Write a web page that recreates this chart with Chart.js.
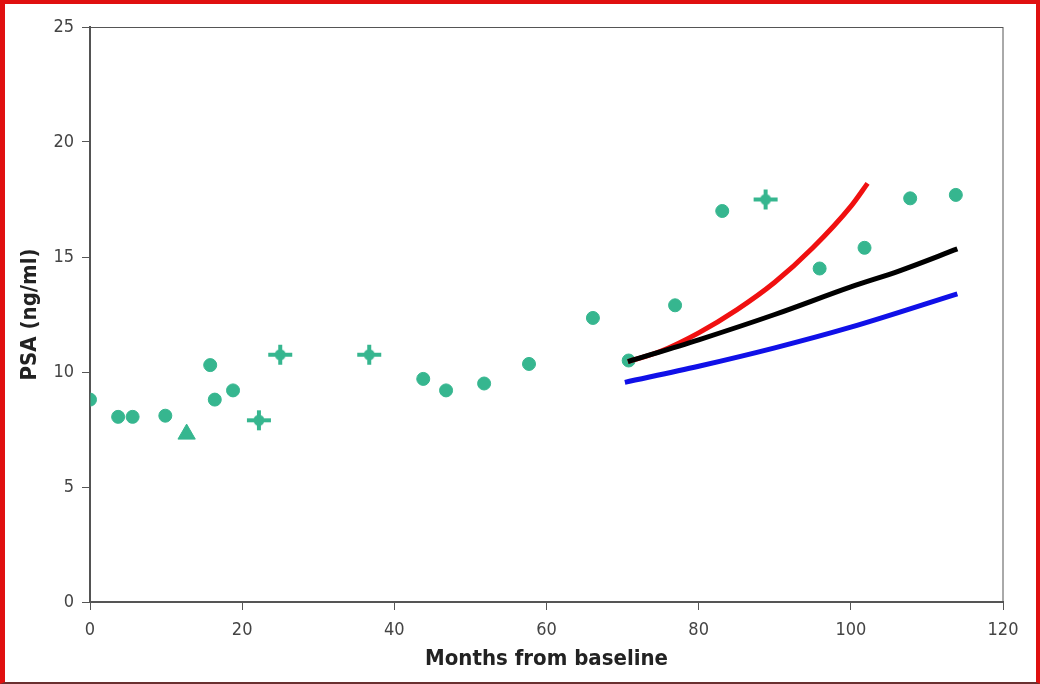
<!DOCTYPE html>
<html>
<head>
<meta charset="utf-8">
<script src="https://cdn.jsdelivr.net/npm/chart.js@4/dist/chart.umd.min.js"></script>
<style>
  html, body { margin: 0; padding: 0; background: #fff; }
  #wrap { position: relative; width: 1040px; height: 684px; }
  #frame {
    position: absolute; left: 0; top: 0; right: 0; bottom: 0;
    border: 4px solid #e01010; border-left-width: 5px; border-bottom: 2px solid #6a3030;
    pointer-events: none;
  }
</style>
</head>
<body>
<div id="wrap">
  <canvas id="psaChart" width="1040" height="684"></canvas>
  <div id="frame"></div>
</div>
<script>
// observed PSA values
const monthsObs = [0, 3.7, 5.6, 9.9, 12.7, 15.8, 16.4, 18.8, 22.2, 25, 36.7, 43.8, 46.8, 51.8, 57.7, 66.1, 70.8, 76.9, 83.1, 88.8, 95.9, 101.8, 107.8, 113.8];
const psaObs = [8.8, 8.05, 8.05, 8.1, 7.3, 10.3, 8.8, 9.2, 7.9, 10.75, 10.75, 9.7, 9.2, 9.5, 10.35, 12.35, 10.5, 12.9, 17.0, 17.5, 14.5, 15.4, 17.55, 17.7];
const crossPoints = [8, 9, 10, 19];
const trianglePoints = [4];

// projected curves
const monthsHigh = [70.7, 75, 80, 85, 90, 95, 100, 102.2];
const psaHigh = [10.45, 10.9, 11.7, 12.7, 13.9, 15.4, 17.2, 18.2];
const monthsMid = [70.7, 80, 90, 100, 106.4, 114];
const psaMid = [10.45, 11.4, 12.5, 13.7, 14.4, 15.35];
const monthsLow = [70.3, 80, 90, 100, 114];
const psaLow = [9.55, 10.25, 11.05, 11.95, 13.4];

const pairs = (xs, ys) => xs.map((x, i) => ({x: x, y: ys[i]}));

const green = '#36b68f';
const ink = '#444';
const narrow = 'DejaVu Sans Condensed, Liberation Sans, Arial, sans-serif';
const tickFont = {family: narrow, size: 18};
const titleFont = {family: narrow, size: 22, weight: 'bold'};

// plus sign with a dot in the middle
function plusMarker() {
    const c = document.createElement('canvas');
    c.width = 26; c.height = 24;
    const g = c.getContext('2d');
    g.fillStyle = green;
    g.fillRect(1, 10, 24, 4);
    g.fillRect(11, 2, 4, 20);
    g.beginPath();
    g.arc(13, 12, 5.5, 0, Math.PI * 2);
    g.fill();
    return c;
}
const plus = plusMarker();

function markerStyle(ctx) {
    if (crossPoints.includes(ctx.dataIndex)) return plus;
    if (trianglePoints.includes(ctx.dataIndex)) return 'triangle';
    return 'circle';
}

// thin box around the plot area
const plotBox = {
    id: 'plotBox',
    afterDraw(chart) {
        const a = chart.chartArea;
        const c = chart.ctx;
        c.save();
        c.strokeStyle = '#555';
        c.lineWidth = 1;
        c.strokeRect(a.left, a.top + 0.5, a.right - a.left, a.bottom - a.top);
        c.restore();
    }
};

function curve(data, color) {
    return {
        type: 'line',
        data: data,
        borderColor: color,
        borderWidth: 5,
        pointRadius: 0,
        tension: 0.4,
        cubicInterpolationMode: 'monotone',
        fill: false
    };
}

new Chart(document.getElementById('psaChart'), {
    type: 'scatter',
    data: {
        datasets: [
            curve(pairs(monthsLow, psaLow), '#1010e8'),
            curve(pairs(monthsMid, psaMid), '#000'),
            curve(pairs(monthsHigh, psaHigh), '#f01010'),
            {
                data: pairs(monthsObs, psaObs),
                clip: 0,
                pointStyle: markerStyle,
                pointRadius: ctx => trianglePoints.includes(ctx.dataIndex) ? 10 : 6.5,
                borderWidth: 1,
                backgroundColor: green,
                borderColor: green
            }
        ]
    },
    options: {
        responsive: false,
        animation: false,
        layout: {padding: {left: 0, top: 27, right: 37, bottom: 0}},
        plugins: {legend: {display: false}, tooltip: {enabled: false}},
        scales: {
            x: {
                type: 'linear',
                min: 0, max: 120,
                afterFit: s => { s.height = 82; },
                border: {color: '#555', width: 2},
                grid: {drawOnChartArea: false, drawTicks: true, tickLength: 8, color: '#555'},
                ticks: {stepSize: 20, color: ink, font: tickFont, padding: 10},
                title: {display: true, text: 'Months from baseline', color: '#222', font: titleFont, padding: {top: 0, bottom: 12}}
            },
            y: {
                min: 0, max: 25,
                afterFit: s => { s.width = 90; },
                border: {color: '#555', width: 2},
                grid: {drawOnChartArea: false, drawTicks: true, tickLength: 8, color: '#555'},
                ticks: {stepSize: 5, color: ink, font: tickFont, padding: 8},
                title: {display: true, text: 'PSA (ng/ml)', color: '#222', font: titleFont, padding: {top: 17, bottom: 0}}
            }
        }
    },
    plugins: [plotBox]
});
</script>
</body>
</html>
